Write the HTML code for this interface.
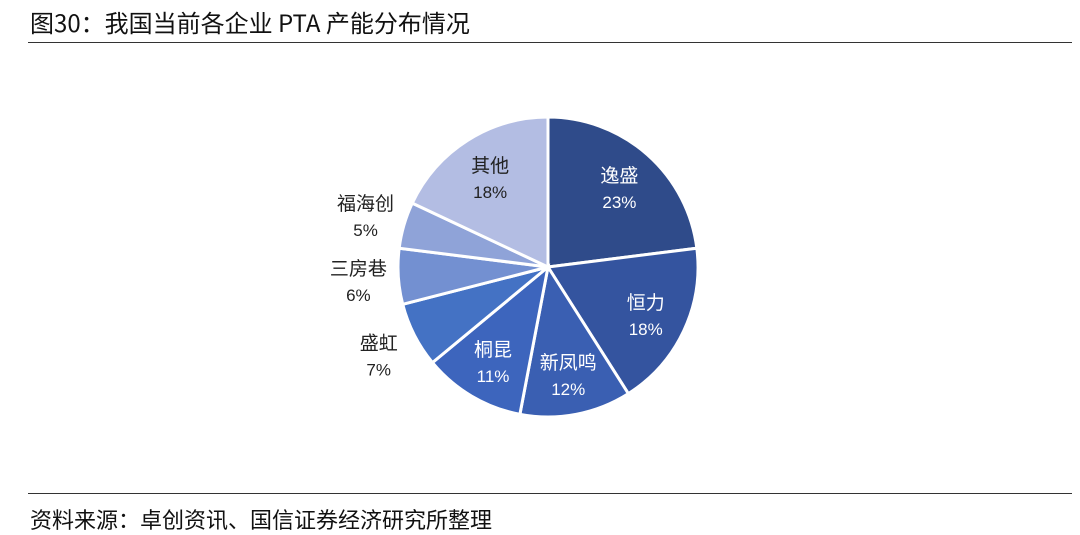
<!DOCTYPE html>
<html><head><meta charset="utf-8">
<style>
body{margin:0;background:#fff;width:1080px;height:535px;overflow:hidden;font-family:"Liberation Sans","Noto Sans CJK SC",sans-serif;}
.title{position:absolute;left:30px;top:5px;font-size:24px;line-height:34px;color:#111;font-family:"Noto Sans CJK SC",sans-serif;}
.line{position:absolute;left:28px;width:1044px;height:1px;background:#333;}
.src{position:absolute;left:30px;top:504px;font-size:22px;line-height:30px;color:#111;font-family:"Noto Sans CJK SC",sans-serif;}
</style></head><body>
<div class="title">图30：我国当前各企业 PTA 产能分布情况</div>
<div class="line" style="top:42px"></div>
<svg id="chart" width="1080" height="535" style="position:absolute;left:0;top:0"></svg>
<div class="line" style="top:493px"></div>
<div class="src">资料来源：卓创资讯、国信证券经济研究所整理</div>
<script>
const categories=["逸盛","恒力","新凤鸣","桐昆","盛虹","三房巷","福海创","其他"];
const values=[23,18,12,11,7,6,5,18];
const colors=["#2f4b8a","#34549f","#3a5fb2","#3d65bd","#4472c4","#7390d1","#8fa3d8","#b3bde3"];
const svg=document.getElementById('chart');
const NS="http://www.w3.org/2000/svg";
const cx=548,cy=267,R=150;
const total=values.reduce((a,b)=>a+b,0);
function pt(a,r){return [cx+r*Math.sin(a),cy-r*Math.cos(a)];}
let acc=0;
values.forEach((v,i)=>{
  const a0=acc/total*2*Math.PI; acc+=v; const a1=acc/total*2*Math.PI;
  const p0=pt(a0,R),p1=pt(a1,R);
  const large=(a1-a0)>Math.PI?1:0;
  const path=document.createElementNS(NS,'path');
  path.setAttribute('d',`M${cx},${cy}L${p0[0]},${p0[1]}A${R},${R} 0 ${large} 1 ${p1[0]},${p1[1]}Z`);
  path.setAttribute('fill',colors[i]);path.setAttribute('stroke','#fff');path.setAttribute('stroke-width','3');
  
  
  svg.appendChild(path);
  const mid=(a0+a1)/2;
  const outside=v<10;
  const lp=pt(mid,outside?190:108);
  const fill=outside||i===categories.length-1?'#222':'#fff';
  const t=document.createElementNS(NS,'text');
  t.setAttribute('x',lp[0]);t.setAttribute('y',lp[1]-4);t.setAttribute('text-anchor','middle');
  t.setAttribute('font-size','19');t.setAttribute('fill',fill);
  t.setAttribute('font-family','"Noto Sans CJK SC",sans-serif');
  t.textContent=categories[i];
  
  
  svg.appendChild(t);
  const t2=document.createElementNS(NS,'text');
  t2.setAttribute('x',lp[0]);t2.setAttribute('y',lp[1]+22);t2.setAttribute('text-anchor','middle');
  t2.setAttribute('font-size','17');t2.setAttribute('fill',fill);
  t2.textContent=v+'%';
  
  
  svg.appendChild(t2);
});
</script>
</body></html>
